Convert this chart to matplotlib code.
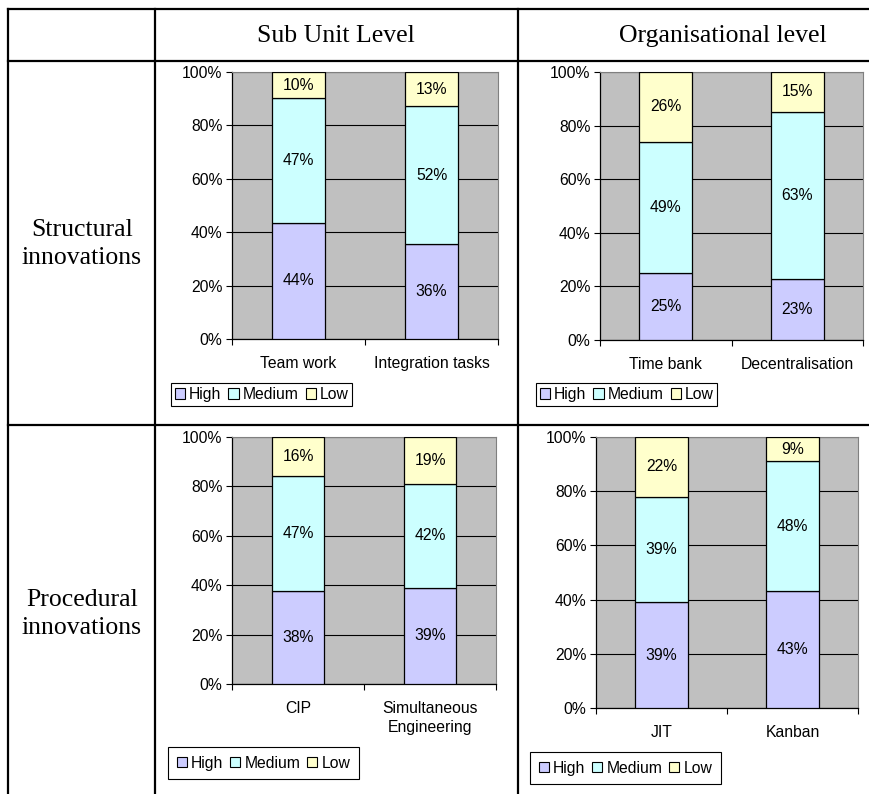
import matplotlib
matplotlib.use("Agg")
import matplotlib.pyplot as plt
import numpy as np
from matplotlib.patches import Patch
from matplotlib.ticker import FixedLocator, PercentFormatter

W, H = 869, 794

# innovation ratings per practice (% of respondents)
levels = ["High", "Medium", "Low"]
level_colors = ["#CCCCFF", "#CCFFFF", "#FFFFCC"]

sub_struct_cats = ["Team work", "Integration tasks"]
sub_struct_high = [44, 36]
sub_struct_med = [47, 52]
sub_struct_low = [10, 13]

org_struct_cats = ["Time bank", "Decentralisation"]
org_struct_high = [25, 23]
org_struct_med = [49, 63]
org_struct_low = [26, 15]

sub_proc_cats = ["CIP", "Simultaneous\nEngineering"]
sub_proc_high = [38, 39]
sub_proc_med = [47, 42]
sub_proc_low = [16, 19]

org_proc_cats = ["JIT", "Kanban"]
org_proc_high = [39, 43]
org_proc_med = [39, 48]
org_proc_low = [22, 9]

col_headers = ["Sub Unit Level", "Organisational level"]
row_headers = ["Structural\ninnovations", "Procedural\ninnovations"]

SANS = "Liberation Sans"
SERIF = "Liberation Serif"
FS = 11.3

fig = plt.figure(figsize=(W / 100, H / 100), dpi=100)

# table grid drawn in pixel coordinates
grid = fig.add_axes([0, 0, 1, 1], zorder=0)
grid.set_xlim(0, W)
grid.set_ylim(H, 0)
grid.axis("off")
lw = 1.6
grid.plot([8, W], [9, 9], color="black", lw=lw)
grid.plot([8, W], [61, 61], color="black", lw=lw)
grid.plot([8, W], [425, 425], color="black", lw=lw)
for x in (8, 155, 518):
    grid.plot([x, x], [9, H], color="black", lw=lw)

grid.text(336, 36, col_headers[0], family=SERIF, fontsize=18.5, ha="center", va="center")
grid.text(723, 36, col_headers[1], family=SERIF, fontsize=18.5, ha="center", va="center")
grid.text(82, 244, row_headers[0], family=SERIF, fontsize=18.5, ha="center", va="center",
          linespacing=1.35)
grid.text(82, 614, row_headers[1], family=SERIF, fontsize=18.5, ha="center", va="center",
          linespacing=1.35)


def draw_chart(box, cats, high, med, low, legend_xy, legend_pad):
    left, top, right, bottom = box
    ax = fig.add_axes([left / W, 1 - bottom / H, (right - left) / W, (bottom - top) / H],
                      zorder=2)
    ax.set_facecolor("#C0C0C0")
    x = np.arange(len(cats))
    data = np.array([high, med, low], dtype=float)
    share = data / data.sum(axis=0) * 100
    base = np.zeros(len(cats))
    for vals, pct, color in zip(data, share, level_colors):
        ax.bar(x, pct, 0.4, bottom=base, color=color, edgecolor="black", linewidth=0.9,
               zorder=3)
        for xi, b, p, v in zip(x, base, pct, vals):
            ax.text(xi, b + p / 2, f"{int(v)}%", ha="center", va="center",
                    family=SANS, fontsize=FS, zorder=4)
        base += pct

    ax.set_xlim(-0.5, len(cats) - 0.5)
    ax.set_ylim(0, 100)
    ax.set_yticks(np.arange(0, 101, 20))
    ax.yaxis.set_major_formatter(PercentFormatter(decimals=0))
    ax.grid(axis="y", color="black", linewidth=0.8, zorder=1)
    ax.set_axisbelow(True)

    ax.set_xticks(x)
    ax.set_xticklabels(cats, family=SANS, fontsize=FS, linespacing=1.4)
    ax.xaxis.set_minor_locator(FixedLocator(np.arange(len(cats) + 1) - 0.5))
    ax.tick_params(axis="x", which="major", length=0, pad=12)
    ax.tick_params(axis="x", which="minor", length=4, width=0.8, direction="out")
    ax.tick_params(axis="y", length=4, width=0.8, direction="out", pad=3)
    for lab in ax.get_yticklabels():
        lab.set_family(SANS)
        lab.set_fontsize(FS)

    for side in ("top", "right"):
        ax.spines[side].set_color("#808080")
        ax.spines[side].set_linewidth(0.8)
    for side in ("left", "bottom"):
        ax.spines[side].set_color("black")
        ax.spines[side].set_linewidth(0.9)

    handles = [Patch(facecolor=c, edgecolor="black", linewidth=0.8) for c in level_colors]
    leg = ax.legend(handles, levels, ncol=3, loc="upper left",
                    bbox_to_anchor=(legend_xy[0] / W, 1 - legend_xy[1] / H),
                    bbox_transform=fig.transFigure, borderaxespad=0,
                    prop={"family": SANS, "size": FS},
                    handlelength=0.65, handleheight=0.65, handletextpad=0.25,
                    columnspacing=0.45, borderpad=legend_pad, fancybox=False,
                    framealpha=1, edgecolor="black")
    leg.get_frame().set_linewidth(0.8)
    return ax


draw_chart((232, 72, 498, 339), sub_struct_cats, sub_struct_high, sub_struct_med,
           sub_struct_low, (171, 383), 0.25)
draw_chart((600, 72, 863, 340), org_struct_cats, org_struct_high, org_struct_med,
           org_struct_low, (536, 383), 0.25)
draw_chart((232, 437, 496, 684), sub_proc_cats, sub_proc_high, sub_proc_med,
           sub_proc_low, (168, 747), 0.55)
draw_chart((596, 437, 858, 708), org_proc_cats, org_proc_high, org_proc_med,
           org_proc_low, (530, 752), 0.55)

fig.savefig("out.png", dpi=100, facecolor="white")
